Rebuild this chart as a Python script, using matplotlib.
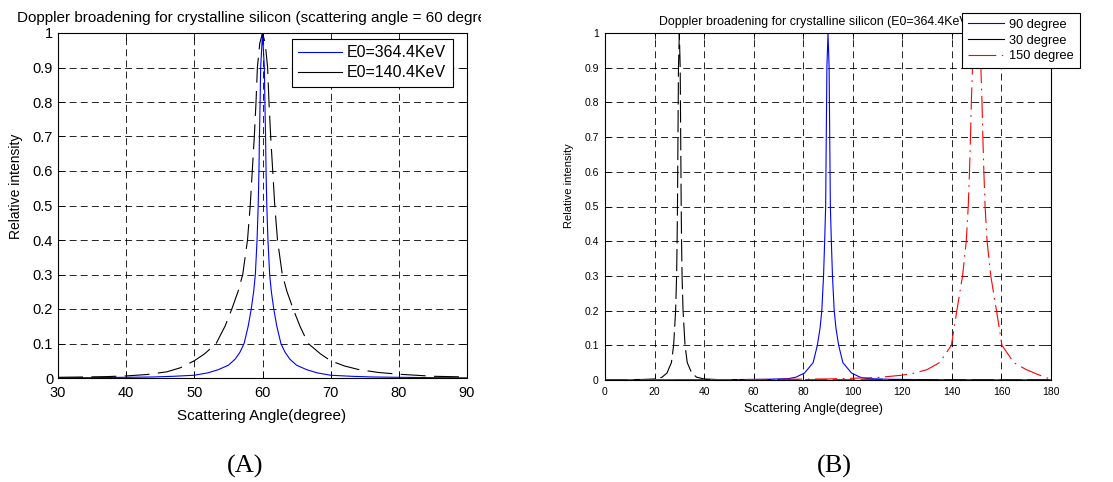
import numpy as np
import matplotlib
matplotlib.use("Agg")
import matplotlib.pyplot as plt
from matplotlib.lines import Line2D
from matplotlib.transforms import Bbox

plt.rcParams["font.family"] = ["Liberation Sans", "DejaVu Sans"]
plt.rcParams["lines.scale_dashes"] = False

# ---- Panel A data: scattering angle 60 degrees ----
a_x_364 = [30, 35, 40, 44, 47, 50, 52, 53.5, 55, 56, 56.7, 57.3, 57.9, 58.35, 58.7,
           58.95, 59.2, 59.37, 59.48, 59.55, 59.65, 59.73, 60,
           60.27, 60.35, 60.45, 60.52, 60.63, 60.8, 61.05, 61.3, 61.65, 62.1,
           62.7, 63.3, 64, 65, 66.5, 68, 70, 73, 76, 80, 85, 90]
a_y_364 = [0.0005, 0.001, 0.002, 0.003, 0.005, 0.008, 0.015, 0.024, 0.037, 0.055, 0.075,
           0.1, 0.15, 0.2, 0.25, 0.3, 0.4, 0.5, 0.6, 0.7, 0.8, 0.9, 1.0,
           0.9, 0.8, 0.7, 0.6, 0.5, 0.4, 0.3, 0.25, 0.2, 0.15, 0.1, 0.075,
           0.055, 0.037, 0.024, 0.015, 0.008, 0.005, 0.003, 0.002, 0.001, 0.0005]

a_x_140 = [30, 34, 37, 40, 43, 46, 48, 50, 51.5, 53.2, 54.5, 55.5, 56.4, 57.1, 57.8,
           58.2, 58.5, 58.8, 59.05, 59.25, 59.6, 60, 60.4, 60.75, 60.95, 61.2, 61.5,
           61.8, 62.2, 62.9, 63.6, 64.5, 65.5, 66.7, 68.5, 70, 72, 74, 77, 80, 85, 90]
a_y_140 = [0.002, 0.003, 0.004, 0.006, 0.01, 0.018, 0.03, 0.05, 0.07, 0.1, 0.15, 0.2,
           0.25, 0.3, 0.4, 0.5, 0.6, 0.7, 0.8, 0.9, 0.97, 1.0, 0.97, 0.9, 0.8, 0.7,
           0.6, 0.5, 0.4, 0.3, 0.25, 0.2, 0.15, 0.1, 0.07, 0.05, 0.035, 0.025, 0.016,
           0.011, 0.005, 0.003]

# ---- Panel B data: E0 = 364.4 keV ----
b_x_90 = [0, 30, 50, 65, 74, 77, 80.5, 84, 85.7, 86.8, 87.5, 88.2, 88.65, 89.05, 89.3,
          89.55, 90, 90.45, 90.7, 90.95, 91.35, 91.8, 92.5, 93.2, 94.3, 96, 99.5, 103,
          106, 115, 130, 150, 180]
b_y_90 = [0.0003, 0.0005, 0.001, 0.002, 0.004, 0.008, 0.02, 0.05, 0.1, 0.15, 0.2, 0.3,
          0.4, 0.5, 0.7, 0.9, 1.0, 0.9, 0.7, 0.5, 0.4, 0.3, 0.2, 0.15, 0.1, 0.05, 0.02,
          0.008, 0.004, 0.002, 0.001, 0.0005, 0.0003]

b_x_30 = [0, 15, 20, 23, 25, 26.8, 27.7, 28.5, 28.9, 29.1, 29.25, 29.45, 29.65, 30,
          30.35, 30.55, 30.75, 30.9, 31.1, 31.5, 32.3, 33.2, 35, 37, 40, 45, 60, 90,
          120, 150, 180]
b_y_30 = [0.0005, 0.0015, 0.003, 0.008, 0.02, 0.05, 0.1, 0.2, 0.3, 0.4, 0.5, 0.7, 0.9,
          1.0, 0.9, 0.7, 0.5, 0.4, 0.3, 0.2, 0.1, 0.05, 0.02, 0.008, 0.003, 0.0015,
          0.0005, 0.0003, 0.0003, 0.0002, 0.0002]

b_x_150 = [0, 60, 90, 110, 120, 125, 130, 135, 139.8, 142, 144.3, 145.8, 146.6, 147.1,
           147.5, 147.85, 148.3, 149, 150, 151, 151.7, 152.15, 152.5, 152.9, 153.4,
           154.2, 155.7, 158, 160.2, 165, 170, 175, 178, 180]
b_y_150 = [0.0005, 0.0015, 0.003, 0.007, 0.014, 0.02, 0.03, 0.05, 0.1, 0.2, 0.3, 0.4,
           0.5, 0.6, 0.7, 0.8, 0.9, 0.95, 1.0, 0.95, 0.9, 0.8, 0.7, 0.6, 0.5, 0.4, 0.3,
           0.2, 0.1, 0.05, 0.03, 0.015, 0.007, 0.002]

W, H = 1113, 482
fig = plt.figure(figsize=(W / 100, H / 100), dpi=100)


def px_axes(left, top, right, bottom):
    return fig.add_axes([left / W, 1 - bottom / H, (right - left) / W, (bottom - top) / H])


def style_axes(ax, size, ticklen, xpad, ypad):
    ax.grid(True, color="black", linestyle=(0, (5, 3)), linewidth=0.6)
    ax.tick_params(direction="in", top=True, right=True, length=ticklen,
                   width=0.6, labelsize=size)
    ax.tick_params(axis="x", pad=xpad)
    ax.tick_params(axis="y", pad=ypad)
    for s in ax.spines.values():
        s.set_linewidth(0.8)
    ax.set_ylim(0, 1)
    ax.set_yticks(np.arange(0, 1.01, 0.1))
    ax.set_yticklabels(["0"] + ["%.1f" % v for v in np.arange(0.1, 0.95, 0.1)] + ["1"])


# ---- (A) ----
ax1 = px_axes(58, 33, 467, 378)
ax1.plot(a_x_364, a_y_364, color="blue", linewidth=0.8)
ax1.plot(a_x_140, a_y_140, color="black", linewidth=0.8, linestyle=(0, (18, 6)))
ax1.set_xlim(30, 90)
ax1.set_xticks(range(30, 91, 10))
style_axes(ax1, 10.5, 5, 5.5, 3.5)
t1 = fig.text(262 / W, 1 - 18 / H,
              "Doppler broadening for crystalline silicon (scattering angle = 60 degrees)",
              ha="center", va="center", fontsize=11)
t1.set_clip_box(Bbox.from_extents(0, 0, 481, H))
fig.text(262 / W, 1 - 416 / H, "Scattering Angle(degree)", ha="center", va="center", fontsize=11)
fig.text(16 / W, 1 - 186 / H, "Relative intensity", ha="center", va="center",
         rotation=90, fontsize=10)
h1 = Line2D([], [], color="blue", linewidth=0.8)
h2 = Line2D([], [], color="black", linewidth=0.8)
leg1 = fig.legend([h1, h2], ["E0=364.4KeV", "E0=140.4KeV"], loc="upper left",
                  bbox_to_anchor=(292 / W, 1 - 39 / H), fontsize=11.5, fancybox=False,
                  framealpha=1, edgecolor="black", handlelength=2.7, handletextpad=0.35,
                  borderpad=0.4, labelspacing=0.3, borderaxespad=0)
leg1.get_frame().set_linewidth(0.8)
fig.text(245 / W, 1 - 466 / H, "(A)", ha="center", va="center", fontsize=19,
         family="Liberation Serif")

# ---- (B) ----
ax2 = px_axes(605, 33, 1051, 380)
ax2.plot(b_x_90, b_y_90, color="blue", linewidth=0.8)
ax2.plot(b_x_30, b_y_30, color="black", linewidth=0.8, linestyle=(0, (16, 4)))
ax2.plot(b_x_150, b_y_150, color="red", linewidth=0.8, linestyle=(0, (16, 4, 1.2, 4)))
ax2.set_xlim(0, 180)
ax2.set_xticks(range(0, 181, 20))
style_axes(ax2, 7.5, 4, 5, 4.5)
ax2.set_title("Doppler broadening for crystalline silicon (E0=364.4KeV)", fontsize=8.9,
              pad=6, x=(815 - 605) / 446)
fig.text(813 / W, 1 - 409 / H, "Scattering Angle(degree)", ha="center", va="center", fontsize=9)
fig.text(569 / W, 1 - 186 / H, "Relative intensity", ha="center", va="center",
         rotation=90, fontsize=8)
g1 = Line2D([], [], color="blue", linewidth=0.8)
g2 = Line2D([], [], color="black", linewidth=0.8)
g3 = Line2D([], [], color="red", linewidth=0.8, linestyle=(0, (20, 4, 1, 12)))
leg2 = fig.legend([g1, g2, g3], ["90 degree", "30 degree", "150 degree"], loc="upper left",
                  bbox_to_anchor=(962 / W, 1 - 13 / H), fontsize=9.2, fancybox=False,
                  framealpha=1, edgecolor="black", handlelength=2.8, handletextpad=0.45,
                  borderpad=0.45, labelspacing=0.3, borderaxespad=0)
leg2.get_frame().set_linewidth(0.8)
fig.text(834 / W, 1 - 466 / H, "(B)", ha="center", va="center", fontsize=19,
         family="Liberation Serif")

fig.savefig("out.png", dpi=100)
